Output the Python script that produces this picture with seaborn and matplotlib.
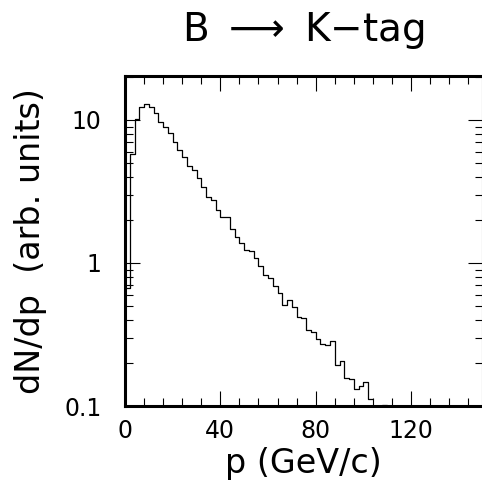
import numpy as np
import pandas as pd
import seaborn as sns
import matplotlib.pyplot as plt
from matplotlib.ticker import MultipleLocator, LogLocator, NullFormatter, FixedLocator

# momentum spectrum, 2 GeV/c bins
bin_edges = list(range(0, 112, 2))
dn_dp = [0.67, 5.8, 10.1, 12.4, 12.9, 12.3, 11.1, 9.7, 9.0, 8.1,
         7.0, 6.2, 5.5, 4.8, 4.5, 3.9, 3.4, 2.9, 2.75, 2.35,
         2.1, 2.1, 1.72, 1.53, 1.37, 1.24, 1.22, 1.08, 0.95, 0.83,
         0.79, 0.69, 0.62, 0.51, 0.55, 0.49, 0.42, 0.41, 0.34, 0.33,
         0.295, 0.27, 0.265, 0.285, 0.195, 0.207, 0.157, 0.155, 0.131, 0.138,
         0.147, 0.112, 0.0, 0.0, 0.102]

y_ticks = [0.1, 1, 10]
y_tick_labels = ['0.1', '1', '10']
x_ticks = [0, 40, 80, 120]

df = pd.DataFrame({'p': [e + 1 for e in bin_edges[:-1]], 'w': dn_dp})

sns.set_style('ticks')
plt.rcParams['font.family'] = ['DejaVu Sans']
plt.rcParams['text.color'] = 'black'
plt.rcParams['axes.labelcolor'] = 'black'

fig = plt.figure(figsize=(4.82, 4.80), dpi=100)
ax = fig.add_axes([125 / 482, 1 - 406 / 480, 357.5 / 482, 330 / 480])

sns.histplot(data=df, x='p', weights='w', bins=bin_edges, element='step',
             fill=False, color='black', linewidth=0.9, ax=ax, log_scale=(False, True))

ax.set_xlim(0, 150)
ax.set_ylim(0.1, 20.3)
ax.xaxis.set_major_locator(FixedLocator(x_ticks))
ax.xaxis.set_minor_locator(MultipleLocator(8))
ax.yaxis.set_major_locator(FixedLocator(y_ticks))
ax.set_yticklabels(y_tick_labels)
ax.yaxis.set_minor_locator(LogLocator(subs=np.arange(2, 10)))
ax.yaxis.set_minor_formatter(NullFormatter())

ax.tick_params(which='both', direction='in', top=True, right=True, width=0.8, colors='black')
ax.tick_params(which='major', length=11, labelsize=17)
ax.tick_params(which='minor', length=5.5)
ax.tick_params(axis='x', pad=9)
ax.tick_params(axis='y', pad=17)

for s in ax.spines.values():
    s.set_linewidth(2.2)
    s.set_color('black')

ax.set_xlabel('p (GeV/c)', fontsize=24, labelpad=3)
ax.set_ylabel('dN/dp  (arb. units)', fontsize=24, labelpad=12)
ax.set_title('B $\\longrightarrow$ K\u2212tag', fontsize=28, pad=25, color='black')

fig.savefig('out.png', dpi=100)
